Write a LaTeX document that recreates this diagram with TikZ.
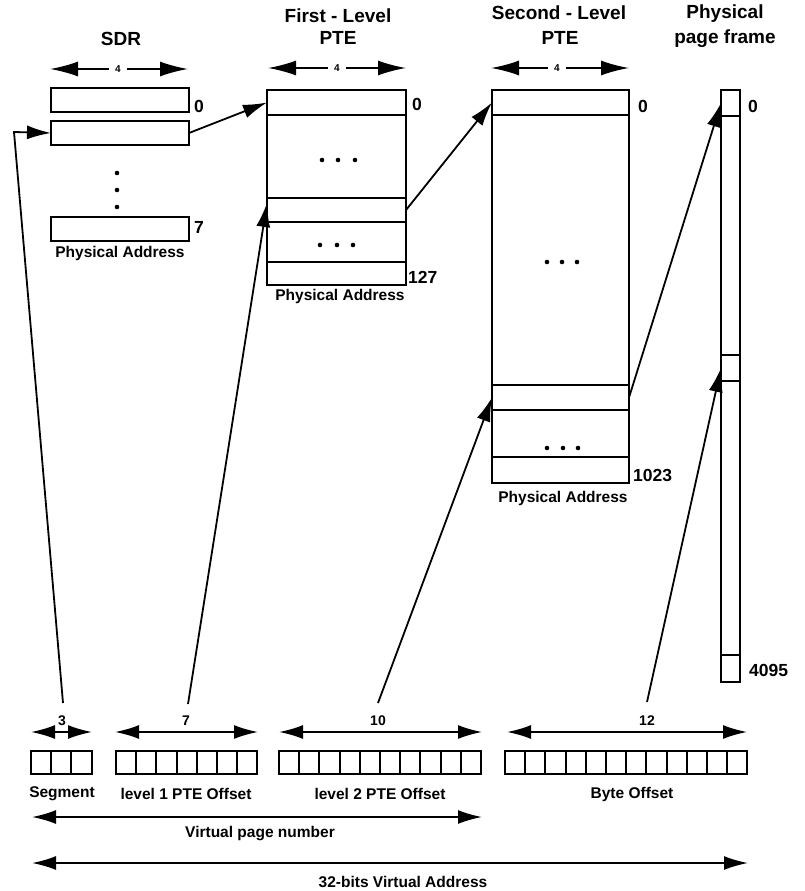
\documentclass[tikz,border=0pt]{standalone}
\usepackage{fontspec}
\setmainfont{Liberation Sans}
\usetikzlibrary{arrows.meta}
\begin{document}
\begin{tikzpicture}[x=1pt,y=-1pt,
  cellbox/.style={draw, line width=1.9pt, inner sep=0pt, outer sep=0pt},
  conn/.style={line width=1.8pt, -{Latex[length=24pt,width=14pt]}},
  dimarr/.style={line width=1.8pt, -{Latex[length=28pt,width=15pt]}},
  dimboth/.style={line width=1.8pt, {Latex[length=24pt,width=14pt]}-{Latex[length=24pt,width=14pt]}},
  title/.style={font=\fontsize{19}{23}\selectfont\bfseries, inner sep=0pt, align=center},
  lab/.style={font=\fontsize{15.5}{18}\selectfont\bfseries, inner sep=0pt},
  num/.style={font=\fontsize{17.5}{20}\selectfont\bfseries, inner sep=0pt, anchor=west},
  bnum/.style={font=\fontsize{14}{16}\selectfont\bfseries, inner sep=0pt},
  four/.style={font=\fontsize{10}{12}\selectfont\bfseries, inner sep=6pt},
  dot/.style={fill, circle, inner sep=0pt, minimum size=4.6pt}
]
\useasboundingbox (0,0) rectangle (805,891);

% ---------- titles ----------
\node[title] (tsdr) at (121,39) {SDR};
\node[title] (tp1a) at (338,16) {First - Level};
\node[title] (tp1b) at (338,38) {PTE};
\node[title] (tp2a) at (559,13) {Second - Level};
\node[title] (tp2b) at (560,38) {PTE};
\node[title] (tpfa) at (725,14) {Physical};
\node[title] (tpfb) at (725,39) {page frame};

% ---------- width "4" arrows ----------
\node[four] (f1) at (118,69) {4};
\coordinate (f1l) at (50,69); \coordinate (f1r) at (188,69);
\draw[dimarr] (f1) -- (f1l); \draw[dimarr] (f1) -- (f1r);
\node[four] (f2) at (337,68) {4};
\coordinate (f2l) at (268,68); \coordinate (f2r) at (406,68);
\draw[dimarr] (f2) -- (f2l); \draw[dimarr] (f2) -- (f2r);
\node[four] (f3) at (557,68) {4};
\coordinate (f3l) at (491,68); \coordinate (f3r) at (629,68);
\draw[dimarr] (f3) -- (f3l); \draw[dimarr] (f3) -- (f3r);

% ---------- SDR ----------
\node[cellbox, minimum width=138pt, minimum height=24pt] (sdr0) at (120,100) {};
\node[cellbox, minimum width=138pt, minimum height=24pt] (sdr1) at (120,133) {};
\node[cellbox, minimum width=138pt, minimum height=24pt] (sdr7) at (120,229) {};
\node[dot] (sd1) at (117,173) {};
\node[dot] (sd2) at (117,190) {};
\node[dot] (sd3) at (117,207) {};
\node[num] (n0a) at (194,106) {0};
\node[num] (n7a) at (194,227) {7};
\node[lab] (pa1) at (120,253) {Physical Address};

% ---------- First-level PTE ----------
\node[cellbox, minimum width=139pt, minimum height=25pt] (p1a) at (336.5,102.5) {};
\node[cellbox, minimum width=139pt, minimum height=83pt] (p1b) at (336.5,156.5) {};
\node[cellbox, minimum width=139pt, minimum height=24pt] (p1c) at (336.5,210) {};
\node[cellbox, minimum width=139pt, minimum height=40pt] (p1d) at (336.5,242) {};
\node[cellbox, minimum width=139pt, minimum height=23pt] (p1e) at (336.5,273.5) {};
\node[dot] (p1d1) at (322,160) {};
\node[dot] (p1d2) at (338,160) {};
\node[dot] (p1d3) at (355,160) {};
\node[dot] (p1d4) at (320,245) {};
\node[dot] (p1d5) at (337,245) {};
\node[dot] (p1d6) at (353,245) {};
\node[num] (n0b) at (412,104) {0};
\node[num] (n127) at (408,277) {127};
\node[lab] (pa2) at (340,296) {Physical Address};

% ---------- Second-level PTE ----------
\node[cellbox, minimum width=137pt, minimum height=25pt] (p2a) at (560.5,102.5) {};
\node[cellbox, minimum width=137pt, minimum height=270pt] (p2b) at (560.5,250) {};
\node[cellbox, minimum width=137pt, minimum height=25pt] (p2c) at (560.5,397.5) {};
\node[cellbox, minimum width=137pt, minimum height=47pt] (p2d) at (560.5,433.5) {};
\node[cellbox, minimum width=137pt, minimum height=26pt] (p2e) at (560.5,470) {};
\node[dot] (p2d1) at (547,262) {};
\node[dot] (p2d2) at (562,262) {};
\node[dot] (p2d3) at (577,262) {};
\node[dot] (p2d4) at (547,448) {};
\node[dot] (p2d5) at (563,448) {};
\node[dot] (p2d6) at (578,448) {};
\node[num] (n0c) at (638,106) {0};
\node[num] (n1023) at (633,475) {1023};
\node[lab] (pa3) at (563,498) {Physical Address};

% ---------- Physical page frame ----------
\node[cellbox, minimum width=19pt, minimum height=26pt] (pfa) at (730.5,103) {};
\node[cellbox, minimum width=19pt, minimum height=239pt] (pfb) at (730.5,235.5) {};
\node[cellbox, minimum width=19pt, minimum height=26pt] (pfc) at (730.5,368) {};
\node[cellbox, minimum width=19pt, minimum height=274pt] (pfd) at (730.5,518) {};
\node[cellbox, minimum width=19pt, minimum height=27pt] (pfe) at (730.5,668.5) {};
\node[num] (n0d) at (748,106) {0};
\node[num] (n4095) at (749,670) {4095};

% ---------- Virtual address fields ----------
\foreach \i in {0,...,2}
  \node[cellbox, minimum width=20.2pt, minimum height=23pt] (seg\i) at ({41.1+20.2*\i},762.5) {};
\foreach \i in {0,...,6}
  \node[cellbox, minimum width=20.2pt, minimum height=23pt] (la\i) at ({126.1+20.2*\i},762.5) {};
\foreach \i in {0,...,9}
  \node[cellbox, minimum width=20.2pt, minimum height=23pt] (lb\i) at ({289.1+20.2*\i},762.5) {};
\foreach \i in {0,...,11}
  \node[cellbox, minimum width=20.2pt, minimum height=23pt] (bo\i) at ({515.1+20.2*\i},762.5) {};

\node[lab] (lseg) at (62,794) {Segment};
\node[lab] (lla) at (186,794) {level 1 PTE Offset};
\node[lab] (llb) at (380,794) {level 2 PTE Offset};
\node[lab] (lbo) at (632,794) {Byte Offset};

% field width arrows
\coordinate (wsl) at (31,732); \coordinate (wsr) at (92,732);
\draw[dimboth] (wsl) -- (wsr);
\node[bnum] (w3) at (62,721) {3};
\coordinate (wal) at (115,732); \coordinate (war) at (258,732);
\draw[dimboth] (wal) -- (war);
\node[bnum] (w7) at (186,721) {7};
\coordinate (wbl) at (279,732); \coordinate (wbr) at (482,732);
\draw[dimboth] (wbl) -- (wbr);
\node[bnum] (w10) at (378,721) {10};
\coordinate (wcl) at (507,732); \coordinate (wcr) at (747,732);
\draw[dimboth] (wcl) -- (wcr);
\node[bnum] (w12) at (647,721) {12};

% virtual page number / 32-bit address
\coordinate (vpl) at (32,817); \coordinate (vpr) at (482,817);
\draw[dimboth] (vpl) -- (vpr);
\node[lab] (vpn) at (260,834) {Virtual page number};
\coordinate (val) at (32,863); \coordinate (var) at (748,863);
\draw[dimboth] (val) -- (var);
\node[lab] (va) at (403,882) {32-bits Virtual Address};

% ---------- connectors ----------
\coordinate (cs) at (63,703);
\coordinate (csk) at (14,132);
\coordinate (ca) at (188,704);
\coordinate (cb) at (378,703);
\coordinate (cc) at (647,702);
\draw[conn] (cs) -- (csk) -- (sdr1.west);
\draw[conn] (sdr1.east) -- (p1a.west);
\draw[conn] (ca) -- ([yshift=-5pt]p1c.north west);
\draw[conn] (p1c.east) -- (p2a.west);
\draw[conn] (cb) -- (p2c.west);
\draw[conn] (p2c.east) -- (pfa.west);
\draw[conn] (cc) -- (pfc.west);
\end{tikzpicture}
\end{document}
